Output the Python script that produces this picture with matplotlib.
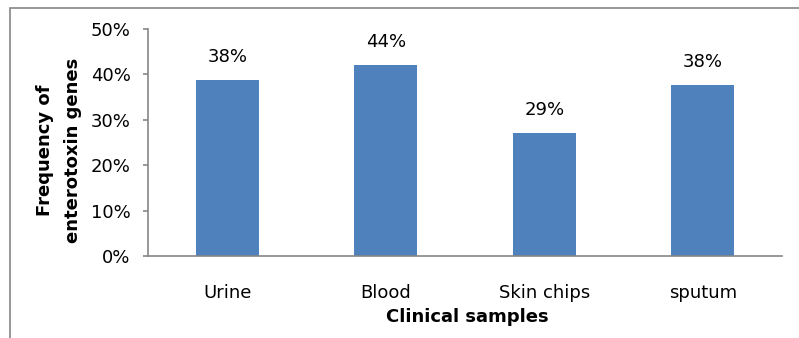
import matplotlib.pyplot as plt
from matplotlib.patches import Rectangle
from matplotlib.ticker import PercentFormatter

# values (bar heights) and the printed labels
categories = ['Urine', 'Blood', 'Skin chips', 'sputum']
bar_heights = [38.8, 42.1, 27.0, 37.7]
bar_labels = ['38%', '44%', '29%', '38%']
y_ticks = [0, 10, 20, 30, 40, 50]

plt.rcParams['font.family'] = ['DejaVu Sans']

fig = plt.figure(figsize=(7.99, 3.38), dpi=100)
ax = fig.add_axes([148 / 799, 1 - 256 / 338, 634 / 799, 227 / 338])

bar_color = '#4F81BD'
axis_color = '#868686'
fs = 13

x = range(len(categories))
bars = ax.bar(x, bar_heights, width=0.4, color=bar_color, zorder=2)

for rect, lab in zip(bars, bar_labels):
    ax.annotate(lab, (rect.get_x() + rect.get_width() / 2, rect.get_height()),
                xytext=(0, 23), textcoords='offset pixels',
                ha='center', va='center', fontsize=fs, color='#000000')

ax.set_xlim(-0.5, len(categories) - 0.5)
ax.set_ylim(0, 50)
ax.set_yticks(y_ticks)
ax.yaxis.set_major_formatter(PercentFormatter(decimals=0))
ax.set_xticks(list(x))
ax.set_xticklabels(categories, fontsize=fs)
ax.tick_params(axis='y', labelsize=fs, length=3.5, width=1.2, color=axis_color, pad=9)
ax.tick_params(axis='x', length=0, pad=20)

for side in ('top', 'right'):
    ax.spines[side].set_visible(False)
for side in ('left', 'bottom'):
    ax.spines[side].set_color(axis_color)
    ax.spines[side].set_linewidth(1.2)

fig.text(467 / 799, 1 - 317 / 338, 'Clinical samples', ha='center', va='center',
         fontsize=fs, fontweight='bold')
fig.text(45 / 799, 1 - 150 / 338, 'Frequency of', rotation=90, ha='center',
         va='center', fontsize=fs, fontweight='bold')
fig.text(73 / 799, 1 - 150 / 338, 'enterotoxin genes', rotation=90, ha='center',
         va='center', fontsize=fs, fontweight='bold')

# chart area frame (cut off at the right and bottom)
fig.patches.append(Rectangle((10 / 799, -0.05), 1.0, 1 - 7.5 / 338 + 0.05,
                             transform=fig.transFigure, fill=False,
                             edgecolor=axis_color, linewidth=1.2))

fig.savefig('out.png', dpi=100)
